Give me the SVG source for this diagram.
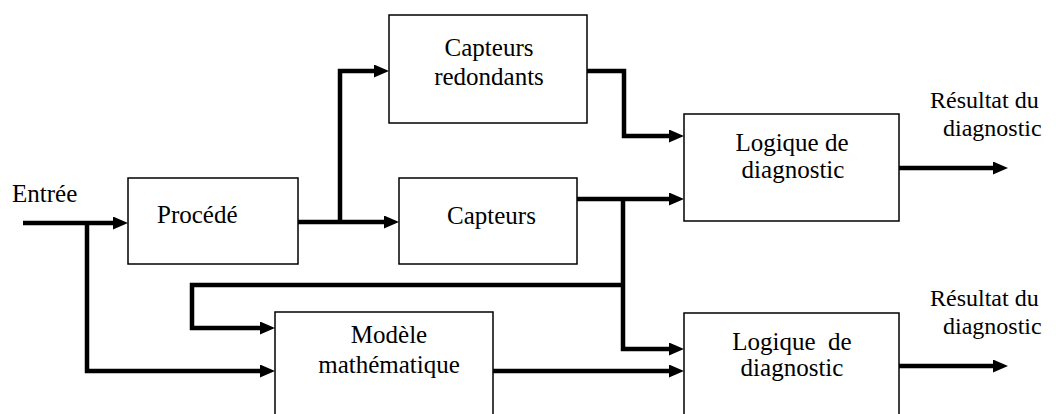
<svg xmlns="http://www.w3.org/2000/svg" width="1056" height="414" viewBox="0 0 1056 414">
<style>
.box{fill:#fff;stroke:#000;stroke-width:1.5}
.t{font-family:"Liberation Serif","Times New Roman",serif;font-size:25px;fill:#000}
.o{font-family:"Liberation Serif","Times New Roman",serif;font-size:24px;fill:#000}
.c{fill:none;stroke:#000;stroke-width:4.5;stroke-linejoin:miter;stroke-linecap:butt}
.a{marker-end:url(#arr)}
</style>
<defs>
<marker id="arr" markerUnits="userSpaceOnUse" markerWidth="15" markerHeight="13" refX="7" refY="6.5" orient="auto">
<path d="M0,0 L15,6.5 L0,13 z" fill="#000"/>
</marker>
</defs>
<rect width="1056" height="414" fill="#fff"/>
<g id="connectors">
<polyline class="c a" points="23,223 120,223"/>
<polyline class="c a" points="87,223 87,371 267,371"/>
<polyline class="c a" points="298,222 391,222"/>
<polyline class="c a" points="340,222 340,71 381,71"/>
<polyline class="c a" points="587,71 624,71 624,136 676,136"/>
<polyline class="c a" points="577,199 676,199"/>
<polyline class="c a" points="623,199 623,349 676,349"/>
<polyline class="c a" points="623,285 192,285 192,328 267,328"/>
<polyline class="c a" points="493,371 676,371"/>
<polyline class="c a" points="899,168 1000,168"/>
<polyline class="c a" points="899,366 1000,366"/>
</g>
<g id="entree"><text class="t" x="12" y="202">Entrée</text></g>
<g id="procede"><rect class="box" x="128" y="178" width="170" height="86"/><text class="t" x="157" y="223">Procédé</text></g>
<g id="capteurs-redondants"><rect class="box" x="389" y="15" width="198" height="108"/><text class="t" x="489" y="56" text-anchor="middle">Capteurs</text><text class="t" x="489" y="85" text-anchor="middle">redondants</text></g>
<g id="capteurs"><rect class="box" x="399" y="178" width="178" height="86"/><text class="t" x="447" y="224">Capteurs</text></g>
<g id="logique1"><rect class="box" x="684" y="114" width="215" height="107"/><text class="t" x="792" y="151" text-anchor="middle">Logique de</text><text class="t" x="793" y="178" text-anchor="middle">diagnostic</text></g>
<g id="modele"><rect class="box" x="275" y="312" width="218" height="110"/><text class="t" x="389" y="343" text-anchor="middle">Modèle</text><text class="t" x="389" y="373" text-anchor="middle">mathématique</text></g>
<g id="logique2"><rect class="box" x="684" y="313" width="215" height="110"/><text class="t" x="792" y="350" text-anchor="middle" xml:space="preserve">Logique  de</text><text class="t" x="792" y="376" text-anchor="middle">diagnostic</text></g>
<g id="resultat1"><text class="o" x="930" y="108">Résultat du</text><text class="o" x="943" y="136">diagnostic</text></g>
<g id="resultat2"><text class="o" x="930" y="306">Résultat du</text><text class="o" x="943" y="334">diagnostic</text></g>
</svg>
